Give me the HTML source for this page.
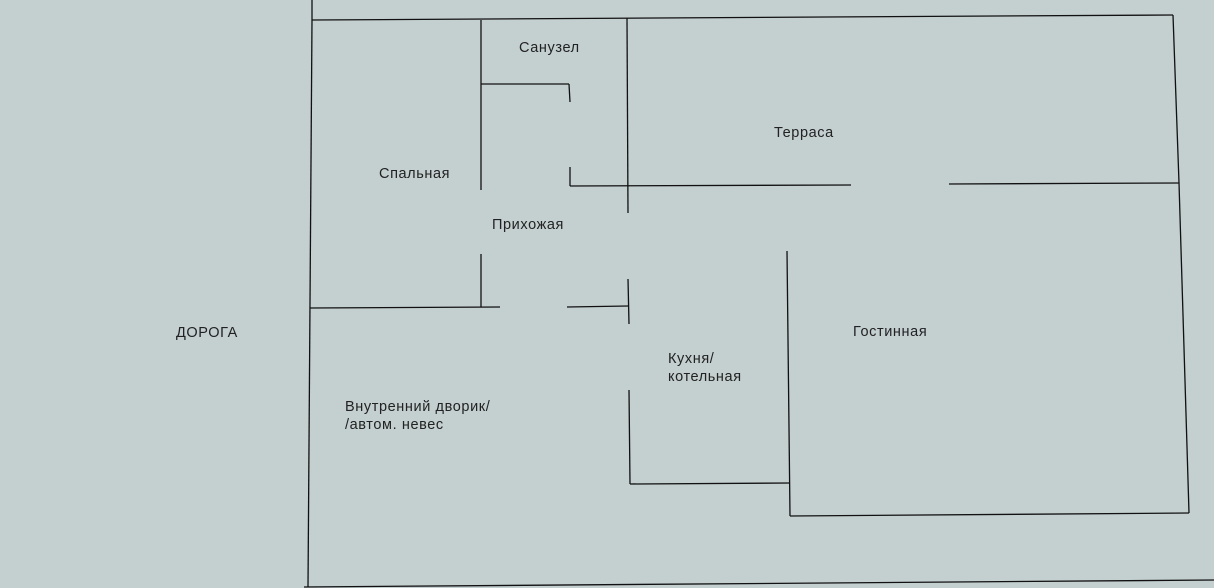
<!DOCTYPE html>
<html><head><meta charset="utf-8"><style>
html,body{margin:0;padding:0;background:#c4cfd0;width:1214px;height:588px;overflow:hidden}
svg{display:block}
text{font-family:"Liberation Sans",sans-serif;font-size:14.5px;letter-spacing:0.6px;fill:#222}
</style></head><body>
<svg width="1214" height="588" viewBox="0 0 1214 588">
<g stroke="#111" stroke-width="1.3" fill="none">
<line x1="312" y1="0" x2="312" y2="20"/>
<line x1="312" y1="20" x2="308" y2="587"/>
<line x1="312" y1="20" x2="1173" y2="15"/>
<line x1="1173" y1="15" x2="1179" y2="183"/>
<line x1="1179" y1="183" x2="1189" y2="513"/>
<line x1="790" y1="516" x2="1189" y2="513"/>
<line x1="304" y1="587" x2="1214" y2="580"/>
<line x1="481" y1="20" x2="481" y2="190"/>
<line x1="481" y1="254" x2="481" y2="307"/>
<line x1="310" y1="308" x2="500" y2="307"/>
<line x1="567" y1="307" x2="628" y2="306"/>
<line x1="627" y1="18" x2="628" y2="213"/>
<line x1="628" y1="279" x2="629" y2="324"/>
<line x1="481" y1="84" x2="569" y2="84"/>
<line x1="569" y1="84" x2="570" y2="102"/>
<line x1="570" y1="167" x2="570" y2="186"/>
<line x1="570" y1="186" x2="851" y2="185"/>
<line x1="949" y1="184" x2="1179" y2="183"/>
<line x1="787" y1="251" x2="790" y2="516"/>
<line x1="629" y1="390" x2="630" y2="484"/>
<line x1="630" y1="484" x2="790" y2="483"/>
</g>
<text x="176" y="337">ДОРОГА</text>
<text x="519" y="52">Санузел</text>
<text x="379" y="178">Спальная</text>
<text x="774" y="137">Терраса</text>
<text x="492" y="229">Прихожая</text>
<text x="853" y="336">Гостинная</text>
<text x="668" y="363">Кухня/</text>
<text x="668" y="381">котельная</text>
<text x="345" y="411">Внутренний дворик/</text>
<text x="345" y="429">/автом. невес</text>
</svg>
</body></html>
